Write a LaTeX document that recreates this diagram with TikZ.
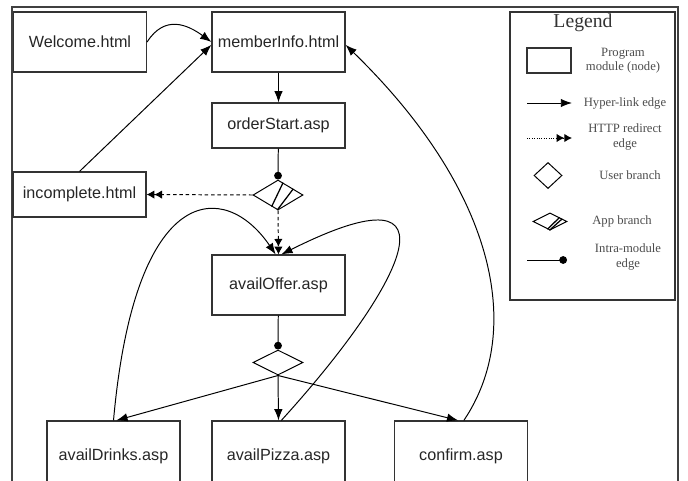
\documentclass[tikz,border=0pt]{standalone}
\usepackage{fontspec}
\setmainfont{Liberation Sans}
\newfontfamily\legendfont{Liberation Serif}
\usepackage{tikz}
\usetikzlibrary{arrows.meta,shapes.geometric,calc}

\begin{document}
\begin{tikzpicture}[x=0.025cm,y=-0.025cm]
        %
        % `module' is used for the program modules (boxes).
        % `ubranch' and `abranch' are the user and app branches (diamonds).
        % `link', `redirect' and `intra' are the three kinds of edges.
        \tikzstyle{module} = [draw=black!80,line width=0.8pt,minimum width=3.325cm,minimum height=1.5cm,inner sep=0pt,font=\fontsize{11.5}{13}\selectfont,text=black!85]
        \tikzstyle{short} = [minimum height=1.125cm]
        \tikzstyle{ubranch} = [draw,line width=0.7pt,shape=diamond,minimum width=1.25cm,minimum height=0.625cm,inner sep=0pt]
        \tikzstyle{abranch} = [ubranch,minimum height=0.75cm]
        \tikzstyle{link} = [line width=0.7pt,-{Latex[length=8pt,width=6pt]}]
        \tikzstyle{redirect} = [link,dash pattern=on 2.5pt off 2pt,-{Latex[length=5.5pt,width=6pt]Latex[length=5.5pt,width=6pt]}]
        \tikzstyle{intra} = [line width=0.7pt,-{Circle[length=5.5pt]}]
        \tikzstyle{legtext} = [font=\legendfont\fontsize{9}{10}\selectfont,text=black!70,align=center]
        \tikzstyle{frame} = [draw=black!75,line width=1.2pt]
        %
        \clip (0,0) rectangle (688,480);
        \draw[frame] (12,7) rectangle (678,500);
        %
        % Row 1
        \node[module] (welcome) at (80,42) {Welcome.html};
        \node[module] (member) at (278.5,42) {memberInfo.html};
        \draw[link] (welcome.east) .. controls (165,14) and (188,25) .. (member.west);
        %
        % Row 2
        \node[module,short] (order) at (278.5,125.5) {orderStart.asp};
        \draw[link] (member) -- (order);
        %
        % Row 3
        \node[module,short] (incomplete) at (79.5,194.5) {incomplete.html};
        \node[abranch] (app) at (278,195) {};
        \draw[line width=0.9pt] ($(app.north)!0.2!(app.east)$) -- ($(app.west)!0.75!(app.south)$);
        \draw[line width=0.9pt] ($(app.north)!0.6!(app.east)$) -- ($(app.west)!0.97!(app.south)$);
        \draw[intra] (order) -- (app.north);
        \draw[redirect] (app.west) -- (incomplete.east);
        \draw[link] (incomplete.north) -- ([yshift=-2pt]member.west);
        %
        % Row 4
        \node[module] (offer) at (278.5,285) {availOffer.asp};
        \node[ubranch] (user) at (278,362.5) {};
        \draw[redirect] (app.south) -- (offer.north);
        \draw[intra] (offer) -- (user.north);
        %
        % Row 5
        \node[module,minimum height=1.75cm] (drinks) at (113.5,456) {availDrinks.asp};
        \node[module,minimum height=1.75cm] (pizza) at (278.5,456) {availPizza.asp};
        \node[module,minimum height=1.75cm] (confirm) at (461,456) {confirm.asp};
        \draw[link] (user.south) -- ([xshift=2pt]drinks.north);
        \draw[link] (user.south) -- (pizza.north);
        \draw[link] (user.south) -- ([xshift=-2pt]confirm.north);
        %
        % Back edges
        \draw[link] (drinks.north) .. controls (135,180) and (225,180) .. ([xshift=-2pt]offer.north);
        \draw[link] ([xshift=2pt]pizza.north) .. controls (400,290) and (470,160) .. ([xshift=2pt]offer.north);
        \draw[link] ([xshift=2pt]confirm.north) .. controls (525,330) and (495,190) .. ([yshift=-2pt]member.east);
        %
        % Legend
        \node[draw=black!80,line width=0.8pt,minimum width=4.125cm,minimum height=7.2cm] (legend) at (592.5,156) {};
        \node[font=\legendfont\fontsize{14}{16}\selectfont,text=black!80] (title) at (583,23) {Legend};
        \node[draw=black!80,line width=0.8pt,minimum width=1.1cm,minimum height=0.625cm] (lmodule) at (549,60.5) {};
        \node[legtext] (tmodule) at (623,61) {Program\\module (node)};
        \coordinate (lk1) at (527,103);
        \coordinate (lk2) at (572,103);
        \draw[link] (lk1) -- (lk2);
        \node[legtext] (tlink) at (625,103) {Hyper-link edge};
        \coordinate (rd1) at (527,138);
        \coordinate (rd2) at (572,138);
        \draw[redirect,densely dotted] (rd1) -- (rd2);
        \node[legtext] (tredirect) at (625,137) {HTTP redirect\\edge};
        \node[ubranch,minimum width=0.7cm,minimum height=0.65cm] (luser) at (548,175.5) {};
        \node[legtext] (tuser) at (630,175) {User branch};
        \node[ubranch,minimum width=0.85cm,minimum height=0.43cm] (lapp) at (550,221.5) {};
        \draw[line width=0.9pt] ($(lapp.north)!0.55!(lapp.east)$) -- ($(lapp.west)!0.85!(lapp.south)$);
        \draw[line width=0.9pt] ($(lapp.north)!0.7!(lapp.east)$) -- ($(lapp.west)!0.97!(lapp.south)$);
        \node[legtext] (tapp) at (622,221) {App branch};
        \coordinate (in1) at (527,260);
        \coordinate (in2) at (567,260);
        \draw[intra] (in1) -- (in2);
        \node[legtext] (tintra) at (628,257) {Intra-module\\edge};
        %
\end{tikzpicture}
\end{document}
